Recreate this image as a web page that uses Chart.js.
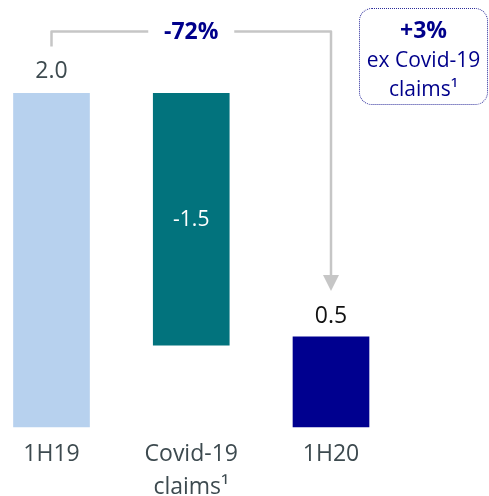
<!DOCTYPE html>
<html>
<head>
<meta charset="utf-8">
<script src="https://cdn.jsdelivr.net/npm/chart.js@4/dist/chart.umd.min.js"></script>
<style>
  html, body { margin:0; padding:0; background:#fff; }
  #wrap { position:relative; width:489px; height:496px; overflow:hidden; }
  canvas { display:block; }
  .note {
    position:absolute; left:359px; top:8px; width:129px; height:97px;
    box-sizing:border-box; border:1.5px dotted #2b2b9a; border-radius:13px;
    font-family:"Open Sans", sans-serif; color:#00008b; text-align:center;
    font-size:21px; line-height:29px; padding-top:6px;
  }
  .note b { font-size:23px; }
</style>
</head>
<body>
<div id="wrap">
  <canvas id="chart" width="489" height="496"></canvas>
  <div class="note"><b>+3%</b><br>ex Covid-19<br>claims¹</div>
</div>
<script>
const categories  = ["1H19", ["Covid-19", "claims¹"], "1H20"];
const barStart    = [0, 0.49, 0];
const barEnd      = [2.0, 2.0, 0.54];
const valueLabels = ["2.0", "-1.5", "0.5"];
const barColors   = ["#b7d1ee", "#02737d", "#00008f"];
const changeLabel = "-72%";

const FONT = "'Open Sans', sans-serif";

// ── Labels + bracket arrow ─────────────────────────────────────────────────
const overlay = {
  id: "overlay",
  afterDatasetsDraw(chart) {
    const ctx = chart.ctx, xs = chart.scales.x, ys = chart.scales.y;
    const x0 = xs.getPixelForValue(0), x1 = xs.getPixelForValue(1), x2 = xs.getPixelForValue(2);
    const top0 = ys.getPixelForValue(barEnd[0]);
    const top2 = ys.getPixelForValue(barEnd[2]);
    const mid1 = (ys.getPixelForValue(barStart[1]) + ys.getPixelForValue(barEnd[1])) / 2;

    ctx.save();
    ctx.textAlign = "center"; ctx.textBaseline = "middle";
    ctx.font = "23px " + FONT;
    ctx.fillStyle = "#3d4a4f";
    ctx.fillText(valueLabels[0], x0, top0 - 22);
    ctx.fillStyle = "#111";
    ctx.fillText(valueLabels[2], x2, top2 - 20);
    ctx.font = "21px " + FONT;
    ctx.fillStyle = "#fff";
    ctx.fillText(valueLabels[1], x1, mid1 + 1);

    // bracket
    const lineY = top0 - 62, tip = top2 - 46, gap = 43;
    ctx.strokeStyle = "#c6c6c6"; ctx.lineWidth = 2.5; ctx.lineJoin = "round";
    ctx.beginPath();
    ctx.moveTo(x0, top0 - 47); ctx.lineTo(x0, lineY); ctx.lineTo(x1 - gap, lineY);
    ctx.moveTo(x1 + gap, lineY); ctx.lineTo(x2, lineY); ctx.lineTo(x2, tip - 15);
    ctx.stroke();
    ctx.fillStyle = "#c6c6c6";
    ctx.beginPath();
    ctx.moveTo(x2 - 8, tip - 16); ctx.lineTo(x2 + 8, tip - 16); ctx.lineTo(x2, tip);
    ctx.closePath(); ctx.fill();

    ctx.font = "bold 23px " + FONT;
    ctx.fillStyle = "#00008b";
    ctx.fillText(changeLabel, x1, lineY + 1);
    ctx.restore();
  }
};

new Chart(document.getElementById("chart").getContext("2d"), {
  type: "bar",
  data: {
    labels: categories,
    datasets: [{
      data: categories.map((c, i) => [barStart[i], barEnd[i]]),
      backgroundColor: barColors,
      borderWidth: 0,
      barThickness: 76,
      clip: false
    }]
  },
  options: {
    responsive:false, animation:false,
    layout: { padding: { left:51.5, right:158, top:10, bottom:0 } },
    plugins: { legend:{display:false}, tooltip:{enabled:false} },
    scales: {
      x: {
        offset:false,
        grid:{display:false, drawTicks:false}, border:{display:false},
        ticks:{ padding:11, color:"#3d4a4f", autoSkip:false, maxRotation:0,
                font:{family:FONT, size:23, lineHeight:1.43} },
        afterFit: s => { s.height = 69; }
      },
      y: { display:false, min:0, max:2.5 }
    }
  },
  plugins: [overlay]
});
</script>
</body>
</html>
